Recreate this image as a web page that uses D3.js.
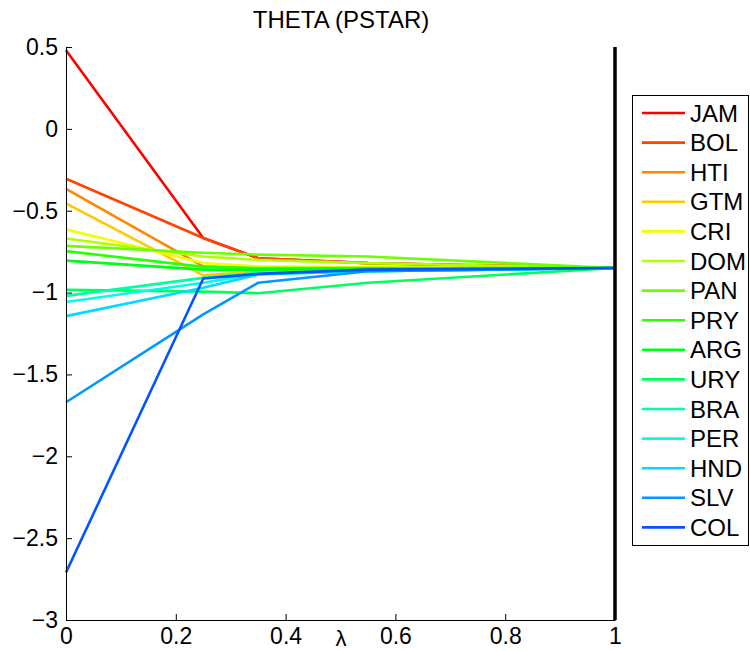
<!DOCTYPE html>
<html><head><meta charset="utf-8">
<script src="https://cdn.jsdelivr.net/npm/d3@7"></script>
<style>body{margin:0;background:#fff}svg{display:block}text{font-family:"Liberation Sans",Arial,sans-serif;fill:#000}</style>
</head><body>
<script>
const lambdas = [0, 0.25, 0.35, 0.55, 1];
const countries = ["JAM","BOL","HTI","GTM","CRI","DOM","PAN","PRY","ARG","URY","BRA","PER","HND","SLV","COL"];
const JAM = [0.48, -0.667, -0.79, -0.82, -0.85];
const BOL = [-0.305, -0.667, -0.79, -0.82, -0.85];
const HTI = [-0.366, -0.84, -0.85, -0.85, -0.85];
const GTM = [-0.455, -0.895, -0.87, -0.86, -0.85];
const CRI = [-0.614, -0.82, -0.84, -0.845, -0.85];
const DOM = [-0.67, -0.78, -0.80, -0.82, -0.85];
const PAN = [-0.715, -0.757, -0.768, -0.78, -0.85];
const PRY = [-0.747, -0.843, -0.85, -0.85, -0.85];
const ARG = [-0.805, -0.86, -0.86, -0.855, -0.85];
const URY = [-0.983, -0.994, -1.004, -0.94, -0.85];
const BRA = [-1.02, -0.91, -0.88, -0.865, -0.85];
const PER = [-1.058, -0.94, -0.885, -0.87, -0.85];
const HND = [-1.144, -0.97, -0.89, -0.87, -0.85];
const SLV = [-1.67, -1.133, -0.94, -0.87, -0.85];
const COL = [-2.71, -0.914, -0.886, -0.86, -0.85];
const seriesValues = [JAM,BOL,HTI,GTM,CRI,DOM,PAN,PRY,ARG,URY,BRA,PER,HND,SLV,COL];
const xTicks = [0, 0.2, 0.4, 0.6, 0.8, 1];
const yTicks = [0.5, 0, -0.5, -1, -1.5, -2, -2.5, -3];
const titleText = "THETA (PSTAR)";
const xLabel = "λ";

const W = 750, H = 651;
const svg = d3.select("body").append("svg").attr("width", W).attr("height", H);
const x = d3.scaleLinear().domain([0, 1]).range([66, 615]);
const y = d3.scaleLinear().domain([-3, 0.5]).range([620, 47]);
const color = i => d3.hsl(i * 220 / 14, 1, 0.5).toString();
const fmt = d => d === 0 ? "0" : d3.format("")(d).replace("-", "\u2212");

// lines
const line = d3.line().x((d, i) => x(lambdas[i])).y(d => y(d));
const g = svg.append("g");
seriesValues.forEach((vals, i) => {
  g.append("path").attr("d", line(vals)).attr("fill", "none")
    .attr("stroke", color(i)).attr("stroke-width", 2.6).attr("stroke-linejoin", "round");
});

// thick right line at lambda = 1
svg.append("line").attr("x1", x(1)).attr("x2", x(1)).attr("y1", y(0.5)).attr("y2", y(-3))
  .attr("stroke", "#000").attr("stroke-width", 3.5);

// axes
const xAxis = d3.axisBottom(x).tickValues(xTicks).tickFormat(fmt).tickSizeInner(-6).tickSizeOuter(0).tickPadding(8);
const yAxis = d3.axisLeft(y).tickValues(yTicks).tickFormat(fmt).tickSizeInner(-6).tickSizeOuter(0).tickPadding(8);
const gx = svg.append("g").attr("transform", `translate(0,${y(-3)})`).call(xAxis);
const gy = svg.append("g").attr("transform", `translate(${x(0)},0)`).call(yAxis);
[gx, gy].forEach(a => {
  a.select(".domain").attr("stroke", "#000").attr("stroke-width", 1);
  a.selectAll(".tick line").attr("stroke", "#000");
  a.selectAll("text").style("font-size", "23px").attr("fill", "#000");
});

// title and label
svg.append("text").attr("x", 341).attr("y", 28).attr("text-anchor", "middle").style("font-size", "24px").text(titleText);
svg.append("text").attr("x", 341).attr("y", 646).attr("text-anchor", "middle").style("font-size", "22px").text(xLabel);

// legend
const lg = svg.append("g");
lg.append("rect").attr("x", 632.5).attr("y", 95.5).attr("width", 116).attr("height", 450)
  .attr("fill", "#fff").attr("stroke", "#000").attr("stroke-width", 1);
countries.forEach((c, i) => {
  const yy = 113 + i * 29.6;
  lg.append("line").attr("x1", 642).attr("x2", 685).attr("y1", yy).attr("y2", yy)
    .attr("stroke", color(i)).attr("stroke-width", 2.6);
  lg.append("text").attr("x", 690).attr("y", yy + 8.5).style("font-size", "24px").text(c);
});
</script>
</body></html>
